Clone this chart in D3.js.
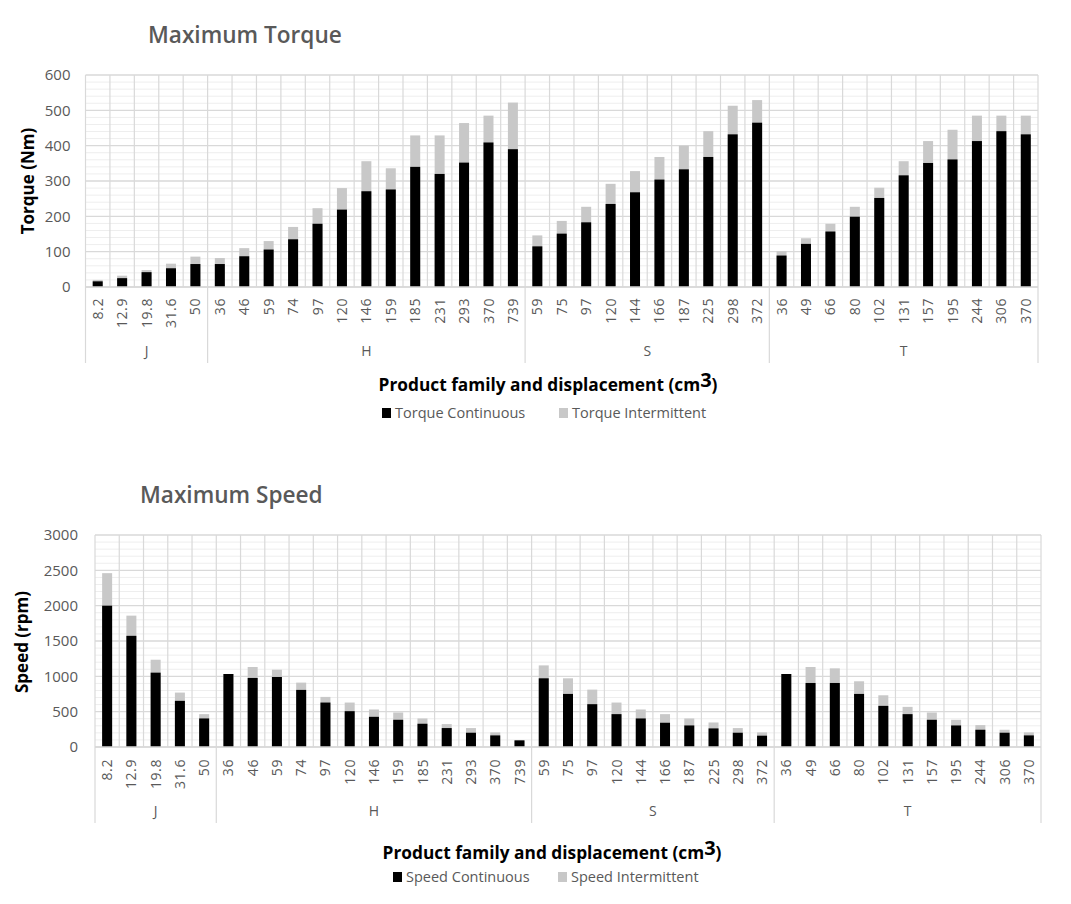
<!DOCTYPE html>
<html>
<head>
<meta charset="utf-8">
<script src="https://cdn.jsdelivr.net/npm/d3@7"></script>
<style>
  html, body { margin: 0; padding: 0; background: #fff; }
  svg { display: block; font-family: "Open Sans", "Noto Sans", sans-serif; }
</style>
</head>
<body>
<svg id="chart" width="1071" height="904"></svg>
<script>
// ---------- DATA ----------
const families = ["J", "H", "S", "T"];
const familySizes = [5, 13, 10, 11];
const displacements = [
  "8.2", "12.9", "19.8", "31.6", "50",
  "36", "46", "59", "74", "97", "120", "146", "159", "185", "231", "293", "370", "739",
  "59", "75", "97", "120", "144", "166", "187", "225", "298", "372",
  "36", "49", "66", "80", "102", "131", "157", "195", "244", "306", "370"
];
const torqueContinuous = [
  16, 25, 42, 53, 65,
  65, 87, 106, 135, 179, 219, 271, 276, 340, 320, 352, 409, 390,
  115, 151, 183, 235, 268, 304, 333, 368, 432, 465,
  89, 122, 157, 199, 252, 316, 351, 361, 413, 441, 432
];
const torqueIntermittent = [
  20, 32, 48, 66, 86,
  82, 110, 130, 170, 223, 280, 356, 336, 429, 429, 464, 485, 522,
  146, 187, 227, 292, 328, 368, 400, 441, 513, 529,
  101, 138, 179, 227, 281, 356, 413, 445, 485, 485, 485
];
const speedContinuous = [
  2000, 1573, 1052, 653, 404,
  1033, 977, 991, 808, 629, 507, 427, 385, 329, 268, 202, 164, 94,
  972, 751, 606, 465, 404, 343, 305, 263, 202, 160,
  1033, 906, 906, 751, 582, 465, 385, 305, 244, 202, 164
];
const speedIntermittent = [
  2460, 1859, 1235, 770, 465,
  1033, 1132, 1094, 911, 709, 629, 531, 488, 404, 324, 268, 207, 94,
  1155, 972, 812, 629, 531, 465, 404, 347, 268, 207,
  1033, 1132, 1113, 930, 732, 568, 488, 385, 310, 244, 207
];
const torqueTicks = [0, 100, 200, 300, 400, 500, 600];
const speedTicks = [0, 500, 1000, 1500, 2000, 2500, 3000];

// ---------- DRAW ----------
const svg = d3.select("#chart");
const labelColor = "#595959";
const gridMajor = "#d9d9d9";
const gridMinor = "#eeeeee";
const cats = displacements.map((d, i) => i);

function drawChart(cfg) {
  const g = svg.append("g");
  const x = d3.scaleBand().domain(cats).range([cfg.left, cfg.right]).paddingInner(0).paddingOuter(0);
  const y = d3.scaleLinear().domain([0, cfg.yMax]).range([cfg.bottom, cfg.top]);
  const bw = x.bandwidth();

  // minor gridlines
  g.append("g").selectAll("line").data(d3.range(0, cfg.yMax + 0.001, cfg.minor).filter(v => v % cfg.major !== 0))
    .join("line")
    .attr("x1", cfg.left).attr("x2", cfg.right)
    .attr("y1", d => y(d)).attr("y2", d => y(d))
    .attr("stroke", gridMinor).attr("stroke-width", 1);
  // major gridlines
  g.append("g").selectAll("line").data(cfg.ticks)
    .join("line")
    .attr("x1", cfg.left).attr("x2", cfg.right)
    .attr("y1", d => y(d)).attr("y2", d => y(d))
    .attr("stroke", gridMajor).attr("stroke-width", 1.3);
  // vertical gridlines at category boundaries
  g.append("g").selectAll("line").data(d3.range(0, cats.length + 1))
    .join("line")
    .attr("x1", i => cfg.left + i * bw).attr("x2", i => cfg.left + i * bw)
    .attr("y1", cfg.top).attr("y2", cfg.bottom)
    .attr("stroke", gridMajor).attr("stroke-width", 1.2);

  // y tick labels
  g.append("g").selectAll("text").data(cfg.ticks)
    .join("text")
    .attr("x", cfg.left - cfg.tickGap).attr("y", d => y(d))
    .attr("dy", "0.35em").attr("text-anchor", "end")
    .attr("font-size", 15).attr("fill", labelColor)
    .text(d => d);

  // bars: intermittent (behind), continuous (front)
  const barW = 10;
  g.append("g").selectAll("rect").data(cfg.inter)
    .join("rect")
    .attr("x", (d, i) => x(i) + (bw - barW) / 2).attr("width", barW)
    .attr("y", d => y(d)).attr("height", d => cfg.bottom - y(d))
    .attr("fill", "#c8c8c8");
  g.append("g").selectAll("rect").data(cfg.cont)
    .join("rect")
    .attr("x", (d, i) => x(i) + (bw - barW) / 2).attr("width", barW)
    .attr("y", d => y(d)).attr("height", d => cfg.bottom - y(d))
    .attr("fill", "#000000");

  // x tick labels (rotated)
  g.append("g").selectAll("text").data(cats)
    .join("text")
    .attr("transform", i => `translate(${x(i) + bw / 2},${cfg.bottom + cfg.labelGap}) rotate(-90)`)
    .attr("text-anchor", "end").attr("dy", "0.36em")
    .attr("font-size", 14).attr("letter-spacing", 0.6).attr("fill", labelColor)
    .text(i => displacements[i]);

  // group separators + labels
  let start = 0;
  const seps = [0];
  familySizes.forEach(n => { start += n; seps.push(start); });
  g.append("g").selectAll("line").data(seps)
    .join("line")
    .attr("x1", i => cfg.left + i * bw).attr("x2", i => cfg.left + i * bw)
    .attr("y1", cfg.bottom).attr("y2", cfg.bottom + 76)
    .attr("stroke", gridMajor).attr("stroke-width", 1.2);
  // x axis line
  g.append("line")
    .attr("x1", cfg.left).attr("x2", cfg.right)
    .attr("y1", cfg.bottom).attr("y2", cfg.bottom)
    .attr("stroke", gridMajor).attr("stroke-width", 1.3);
  g.append("g").selectAll("text").data(families)
    .join("text")
    .attr("x", (f, i) => cfg.left + (seps[i] + seps[i + 1]) / 2 * bw)
    .attr("y", cfg.bottom + 64).attr("dy", "0.35em")
    .attr("text-anchor", "middle").attr("font-size", 14).attr("fill", labelColor)
    .text(f => f);

  // title
  g.append("text").attr("x", cfg.titleX).attr("y", cfg.titleY)
    .attr("font-size", 22.6).attr("font-weight", 600).attr("fill", labelColor)
    .text(cfg.title);

  // y axis title
  g.append("text")
    .attr("transform", `translate(${cfg.yTitleX},${cfg.yTitleY}) rotate(-90)`)
    .attr("text-anchor", "middle").attr("dy", "0.35em")
    .attr("font-size", 17).attr("font-weight", 700).attr("fill", "#000")
    .text(cfg.yTitle);

  // x axis title
  const xt = g.append("text")
    .attr("x", cfg.xTitleX).attr("y", cfg.xTitleY)
    .attr("text-anchor", "middle")
    .attr("font-size", 17.3).attr("font-weight", 700).attr("fill", "#000");
  xt.append("tspan").text("Product family and displacement (cm");
  xt.append("tspan").attr("font-size", 20).attr("dy", -4).text("3");
  xt.append("tspan").attr("dy", 4).text(")");

  // legend
  const leg = g.append("g");
  cfg.legend.forEach(item => {
    leg.append("rect").attr("x", item.x).attr("y", cfg.legendY - 5).attr("width", 9).attr("height", 10)
      .attr("fill", item.color);
    leg.append("text").attr("x", item.x + 13).attr("y", cfg.legendY).attr("dy", "0.35em")
      .attr("font-size", 14.5).attr("fill", labelColor).text(item.label);
  });
}

drawChart({
  left: 85.5, right: 1038, top: 75, bottom: 287,
  yMax: 600, major: 100, minor: 20, ticks: torqueTicks, tickGap: 15, labelGap: 11,
  cont: torqueContinuous, inter: torqueIntermittent,
  title: "Maximum Torque", titleX: 148, titleY: 43,
  yTitle: "Torque (Nm)", yTitleX: 28, yTitleY: 181,
  xTitleX: 548, xTitleY: 391,
  legendY: 413,
  legend: [
    { x: 382, color: "#000000", label: "Torque Continuous" },
    { x: 559, color: "#c8c8c8", label: "Torque Intermittent" }
  ]
});

drawChart({
  left: 95, right: 1041, top: 535, bottom: 747,
  yMax: 3000, major: 500, minor: 100, ticks: speedTicks, tickGap: 17, labelGap: 12,
  cont: speedContinuous, inter: speedIntermittent,
  title: "Maximum Speed", titleX: 140, titleY: 503,
  yTitle: "Speed (rpm)", yTitleX: 22, yTitleY: 642,
  xTitleX: 552, xTitleY: 859,
  legendY: 877,
  legend: [
    { x: 393, color: "#000000", label: "Speed Continuous" },
    { x: 558, color: "#c8c8c8", label: "Speed Intermittent" }
  ]
});
</script>
</body>
</html>
